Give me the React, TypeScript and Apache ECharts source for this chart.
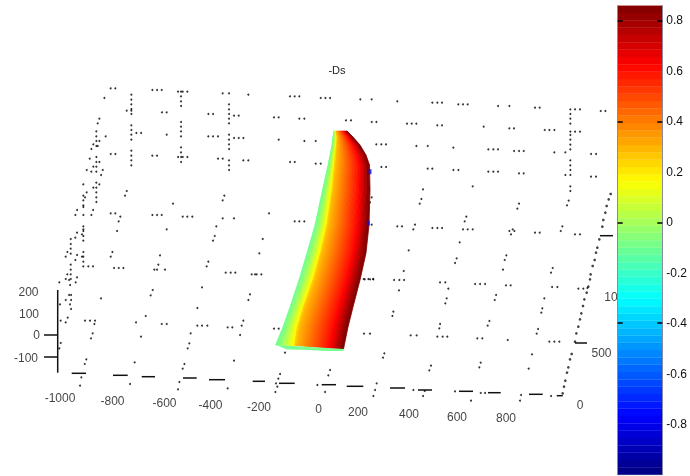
import React, { useEffect, useRef } from "react";
import * as echarts from "echarts";

// Dots of the 3-D grid at 3x; each list has its own crop origin.
const dotsUpperLeft = [[152,85],[166,85],[133,114],[214,104],[214,119],[214,133],[214,147],[214,152],[214,162],[200,152],[277,90],[291,90],[305,90],[354,95],[363,95],[368,95],[382,95],[363,109],[363,124],[363,138],[488,100],[507,100],[565,104],[507,133],[507,148],[507,162],[507,176],[507,190],[522,167],[536,167],[445,162],[459,162],[306,157],[320,157],[690,109],[704,109],[718,109],[782,114],[796,114],[810,114],[642,172],[656,172],[718,176],[733,176],[118,176],[113,190],[109,214],[109,229],[137,229],[109,243],[118,243],[100,253],[109,258],[113,258],[94,267],[214,196],[214,210],[214,224],[214,239],[229,219],[243,219],[320,224],[363,186],[363,200],[363,214],[363,229],[445,229],[459,229],[474,229],[507,224],[507,239],[522,234],[536,234],[550,234],[507,253],[507,267],[656,239],[733,243],[767,243],[152,282],[166,282],[214,272],[214,287],[214,301],[214,316],[277,287],[291,287],[363,262],[363,277],[354,291],[363,291],[368,291],[382,291],[363,306],[474,296],[488,296],[507,301],[507,316],[507,330],[550,301],[565,301],[690,306],[704,306],[767,311],[782,311],[109,291],[89,296],[109,306],[118,306],[100,320],[109,320],[80,330],[94,335],[109,335],[128,330],[123,345],[70,373],[109,368],[118,373],[100,383],[109,383],[80,397],[70,407],[75,412],[109,397],[109,412],[109,426],[70,421],[70,436],[70,441],[99,450],[51,450],[46,465],[70,465],[94,465],[200,393],[195,407],[339,431],[493,407],[488,421],[152,460],[166,460],[181,470],[176,484],[171,513],[277,465],[291,465],[305,465],[368,470],[382,470],[397,470],[488,475],[522,475],[627,460],[704,484],[718,484],[733,484],[469,499],[320,508],[464,528],[459,542],[608,537],[70,499],[70,508],[70,513],[51,518],[46,533],[66,523],[70,528],[70,542],[32,537],[32,552],[32,566],[22,576],[32,581],[17,590],[51,585],[46,600],[70,576],[66,590],[70,590],[70,605],[157,576],[152,590],[300,586],[598,580],[445,605],[440,619],[295,614],[283,629],[291,629],[315,629],[162,624],[176,624],[190,624],[70,619],[85,619],[99,619],[32,614],[32,629],[22,643],[32,643],[51,652],[17,657],[32,657],[497,638],[512,638],[526,638],[575,643],[585,643],[590,643],[604,643]];
const dotsUpperRight = [[61,118],[95,118],[172,124],[277,128],[292,128],[306,128],[355,133],[369,133],[383,133],[474,138],[508,138],[585,143],[599,143],[691,148],[705,148],[720,148],[782,153],[796,153],[691,162],[691,176],[691,191],[18,181],[33,181],[95,186],[109,186],[201,191],[215,191],[229,191],[292,196],[306,196],[431,200],[508,205],[522,205],[614,210],[628,210],[643,210],[691,215],[705,215],[720,215],[691,225],[691,239],[691,254],[691,268],[109,253],[124,253],[138,253],[229,258],[263,258],[340,263],[445,268],[460,268],[474,268],[522,273],[537,273],[551,273],[643,277],[676,277],[753,282],[768,282],[691,301],[691,316],[691,330],[676,345],[691,345],[753,350],[768,350],[124,321],[138,321],[263,326],[277,326],[340,330],[355,330],[445,335],[460,335],[474,335],[537,340],[551,340],[691,379],[691,393],[686,422],[681,436],[398,379],[249,388],[244,417],[239,431],[95,412],[90,427],[537,431],[532,446],[379,470],[374,484],[172,499],[186,499],[225,494],[220,508],[277,504],[292,504],[306,504],[369,508],[383,508],[398,508],[508,513],[518,508],[523,513],[513,523],[585,518],[599,518],[667,499],[662,513],[705,523],[720,523],[95,494],[359,547],[206,571],[499,586],[494,600],[489,629],[350,595],[345,609],[191,633],[638,624],[633,638],[71,657],[85,657],[99,657]];
const dotsLowerRight = [[72,461],[90,461],[212,466],[230,466],[292,470],[308,470],[322,470],[412,475],[427,475],[503,480],[628,485],[643,485],[658,485],[298,445],[300,432],[448,423],[443,437],[594,447],[590,461],[160,395],[157,408],[320,355],[316,370],[468,345],[464,360],[613,355],[607,385],[604,398],[162,300],[178,300],[192,300],[177,331],[300,307],[316,307],[325,326],[405,312],[420,312],[435,312],[498,316],[512,316],[636,321],[652,321],[715,326],[730,326],[742,324],[133,520],[129,533],[273,557],[268,571],[422,548],[418,562],[576,523],[566,566],[110,610],[105,630],[100,648],[220,630],[254,633],[249,648],[345,634],[393,662],[422,639],[435,639],[543,645],[540,662],[633,648],[74,298],[90,298],[100,298]];
const dotsLowerLeft = [[178,37],[207,30],[210,45],[227,37],[207,75],[213,75],[197,90],[213,90],[210,103],[213,117],[180,103],[303,85],[458,60],[452,76],[606,52],[592,114],[750,73],[745,90],[437,138],[408,157],[255,152],[270,152],[285,152],[283,162],[278,190],[273,205],[203,143],[197,157],[182,152],[485,162],[500,162],[592,167],[606,167],[622,167],[683,172],[697,172],[730,152],[725,167],[720,195],[572,190],[423,200],[568,220],[563,235],[182,219],[178,235],[259,268],[254,282],[404,277],[553,282],[548,296],[702,272],[244,322],[240,347],[390,342],[538,336],[534,358],[683,355],[840,312],[835,326],[828,340],[832,350],[826,366],[860,233],[855,248],[822,176],[836,176],[990,300],[985,316],[952,345],[975,366]];
const rightAxisDots = [[812,42],[806,58],[800,78],[796,98],[790,120],[787,140],[778,178],[772,203],[768,218],[764,240],[758,258],[752,283],[750,298],[745,320],[740,338],[733,358],[729,378],[724,400],[720,418],[715,440],[709,460],[705,485],[695,522],[690,538],[685,562],[681,578],[676,602],[672,620],[668,640]];

// Tick marks in picture units: [x0, y0, x1, y1]
const axisSegments = [
  [57.7,290,57.7,372.7],[44,335,58,335],[44,357,58,357],
  [71.7,373.3,86,373.3],[113,375.3,127.7,375.3],[141.7,376.7,155,376.7],[183,378,196.7,378],[209,379.7,225,379.7],[252.7,381.3,265,381.3],[279,383.3,294.7,383.3],[321.7,384.7,336,384.7],[346.7,386.3,363.3,386.3],[390,388,405,388],[418,390,432,390],[459,391.3,473,391.3],[488,392.7,500.7,392.7],[529,394.3,542.7,394.3],[556.7,395.7,562.7,395.7],
  [600,235.7,613,235.7],[575,343,587,343],
];

const xTickLabels = ["-1000","-800","-600","-400","-200","0","200","400","600","800"];
const xTickPlaces = [[60,398],[112.5,401],[164.5,402.5],[210.5,405],[259,407],[318.5,409],[358,412],[409,414],[457,416.5],[506,417.5]];
const zTickLabels = ["200","100","0","-100"];
const zTickPlaces = [[28.5,292],[29,314],[36.5,335],[26,358]];
const yTickLabels = ["0","500","10"];
const yTickPlaces = [[580,405],[601.5,352.7],[611,297]];

// The surface: left edge, the yellow ridge, right edge.
const surfaceLeft = [[334,131],[333,137],[332,145],[330,155],[328,165],[322.5,190],[315,225],[307,253],[299,280],[290,307],[283,327],[275.5,345]];
const surfaceMid = [[336,131],[337,137],[336.5,145],[335.5,155],[334.5,165],[332,190],[327,225],[320.5,253],[313,280],[303.5,307],[297.5,327],[294.5,345.5]];
const surfaceRight = [[347,131],[353,137],[360,145],[366,155],[369.5,165],[370,190],[369,225],[366,253],[360,280],[353,307],[348,327],[343.5,349]];
const leftBandValues = [-0.1,-0.08,-0.06,-0.04,-0.01,0.02,0.05,0.08,0.11,0.14,0.17];
const rightBandValues = [0.26,0.3,0.32,0.34,0.36,0.38,0.4,0.42,0.44,0.46,0.48,0.5,0.52,0.54,0.56,0.58,0.6,0.63,0.66,0.7,0.74,0.78,0.82,0.85];
const lowerStrip = [[276,345],[343.5,349],[343.5,351],[325,351],[310,350],[287,349.5]];
const blueFlecks = [[370,171.7],[368.3,223]];

const colorbarMin = -1;
const colorbarMax = 0.858;
const colorbarLevels = 64;
const colorbarLabelValues = [0.8,0.6,0.4,0.2,0,-0.2,-0.4,-0.6,-0.8];
const colorbarTickValues = [0.8,0.4,0,-0.4];

const clamp = (v: number) => Math.max(0, Math.min(1, v));
const jetAt = (p: number) => {
  const c = (d: number) => Math.round(255 * clamp(1.5 - Math.abs(4 * p - d)));
  return `rgb(${c(3)},${c(2)},${c(1)})`;
};
const jetOf = (v: number) => jetAt((v - colorbarMin) / (colorbarMax - colorbarMin));

const fromCrop = (ox: number, oy: number, list: number[][]) => list.map(([x, y]) => [ox + x / 3, oy + y / 3]);
const gridDots = [
  ...fromCrop(60, 60, dotsUpperLeft),
  ...fromCrop(340, 60, dotsUpperRight),
  ...fromCrop(340, 180, dotsLowerRight),
  ...fromCrop(0, 270, dotsLowerLeft),
];

const mix = (a: number[], b: number[], f: number) => [a[0] + (b[0] - a[0]) * f, a[1] + (b[1] - a[1]) * f];
const bandPath = (from: number[][], to: number[][], f0: number, f1: number) => {
  const one = from.map((p, i) => mix(p, to[i], f0));
  const two = from.map((p, i) => mix(p, to[i], f1)).reverse();
  return [...one, ...two];
};
const surfaceBands = [
  ...leftBandValues.map((v, i) => ({ v, pts: bandPath(surfaceLeft, surfaceMid, i / leftBandValues.length, (i + 1) / leftBandValues.length) })),
  ...rightBandValues.map((v, i) => ({ v, pts: bandPath(surfaceMid, surfaceRight, i / rightBandValues.length, (i + 1) / rightBandValues.length) })),
];

const FONT = '"Liberation Sans", Arial, sans-serif';
const textSeries = (labels: string[], places: number[][]) => ({
  type: "scatter", xAxisIndex: 0, yAxisIndex: 0, symbolSize: 0, silent: true, z: 1,
  data: labels.map((name, i) => ({ name, value: places[i] })),
  label: { show: true, position: "inside", formatter: "{b}", color: "#111", fontFamily: FONT, fontSize: 12 },
});

export default function App() {
  const ref = useRef<HTMLDivElement>(null);
  useEffect(() => {
    const chart = echarts.init(ref.current!, undefined, { renderer: "svg" });
    chart.setOption({
      animation: false,
      backgroundColor: "#fff",
      title: {
        text: "-Ds", left: 332, top: 59, textAlign: "center",
        textStyle: { fontFamily: FONT, fontSize: 11, fontWeight: "normal", color: "#222" },
      },
      grid: [
        { left: 0, top: 0, width: 690, height: 476 },
        { left: 617.7, top: 5.7, width: 44.6, height: 469 },
      ],
      xAxis: [
        { gridIndex: 0, type: "value", min: 0, max: 690, show: false },
        { gridIndex: 1, type: "value", min: 0, max: 1, show: false },
      ],
      yAxis: [
        { gridIndex: 0, type: "value", min: 0, max: 476, inverse: true, show: false },
        {
          gridIndex: 1, type: "value", min: colorbarMin, max: colorbarMax, position: "left", z: 8,
          splitLine: { show: false }, axisLabel: { show: false },
          axisLine: { show: true, lineStyle: { color: "#8a8aa0", width: 1 } },
          axisTick: { show: true, inside: true, length: 5, customValues: colorbarTickValues, lineStyle: { color: "#000", width: 1.5 } },
        },
        {
          gridIndex: 1, type: "value", min: colorbarMin, max: colorbarMax, position: "right", z: 8,
          splitLine: { show: false },
          axisLine: { show: true, lineStyle: { color: "#8a8aa0", width: 1 } },
          axisTick: { show: true, inside: true, length: 5, customValues: colorbarTickValues, lineStyle: { color: "#000", width: 1.5 } },
          axisLabel: {
            show: true, inside: false, margin: 4, customValues: colorbarLabelValues, color: "#111", fontFamily: FONT, fontSize: 12,
            formatter: (v: number) => (Math.abs(v) < 1e-9 ? "0" : v.toFixed(1)),
          },
        },
      ],
      series: [
        textSeries(xTickLabels, xTickPlaces),
        textSeries(zTickLabels, zTickPlaces),
        textSeries(yTickLabels, yTickPlaces),
        {
          type: "scatter", xAxisIndex: 0, yAxisIndex: 0, symbolSize: 2, silent: true, z: 2,
          itemStyle: { color: "#000" }, data: gridDots,
        },
        {
          type: "scatter", xAxisIndex: 0, yAxisIndex: 0, symbolSize: 2.6, silent: true, z: 2,
          itemStyle: { color: "#111" }, data: fromCrop(340, 180, rightAxisDots),
        },
        {
          type: "custom", xAxisIndex: 0, yAxisIndex: 0, silent: true, z: 2, clip: false,
          data: axisSegments,
          renderItem: (_: any, api: any) => {
            const a = api.coord([api.value(0), api.value(1)]);
            const b = api.coord([api.value(2), api.value(3)]);
            return { type: "line", shape: { x1: a[0], y1: a[1], x2: b[0], y2: b[1] }, style: { stroke: "#111", lineWidth: 1.5 } };
          },
          encode: { x: 0, y: 1 },
        },
        {
          type: "custom", xAxisIndex: 0, yAxisIndex: 0, silent: true, z: 3, clip: false,
          data: surfaceBands.map((b) => [b.pts[0][0], b.pts[0][1]]),
          renderItem: (p: any, api: any) => {
            const band = surfaceBands[p.dataIndex];
            const c = jetOf(band.v);
            return { type: "polygon", shape: { points: band.pts.map((q) => api.coord(q)) }, style: { fill: c, stroke: c, lineWidth: 0.8 } };
          },
        },
        {
          type: "custom", xAxisIndex: 0, yAxisIndex: 0, silent: true, z: 3, clip: false,
          data: [[276, 345]],
          renderItem: (_: any, api: any) => ({
            type: "polygon", shape: { points: lowerStrip.map((q) => api.coord(q)) }, style: { fill: "#78ff90" },
          }),
        },
        {
          type: "scatter", xAxisIndex: 0, yAxisIndex: 0, symbol: "rect", symbolSize: [3, 5], silent: true, z: 4,
          itemStyle: { color: "#1111dd" }, data: blueFlecks,
        },
        {
          type: "custom", xAxisIndex: 1, yAxisIndex: 1, silent: true, z: 6,
          data: Array.from({ length: colorbarLevels }, (_, i) => [0, colorbarMin + ((i + 0.5) * (colorbarMax - colorbarMin)) / colorbarLevels]),
          renderItem: (p: any, api: any) => {
            const i = p.dataIndex;
            const step = (colorbarMax - colorbarMin) / colorbarLevels;
            const lo = api.coord([0, colorbarMin + i * step]);
            const hi = api.coord([1, colorbarMin + (i + 1) * step]);
            const c = jetAt((i + 0.5) / colorbarLevels);
            return { type: "rect", shape: { x: lo[0], y: hi[1], width: hi[0] - lo[0], height: lo[1] - hi[1] }, style: { fill: c, stroke: c, lineWidth: 0.3 } };
          },
        },
      ],
    });
    return () => chart.dispose();
  }, []);
  return (
    <div style={{ position: "absolute", left: 0, top: 0, width: 690, height: 476, filter: "blur(0.3px)" }}>
      <div ref={ref} style={{ width: 690, height: 476 }} />
    </div>
  );
}
